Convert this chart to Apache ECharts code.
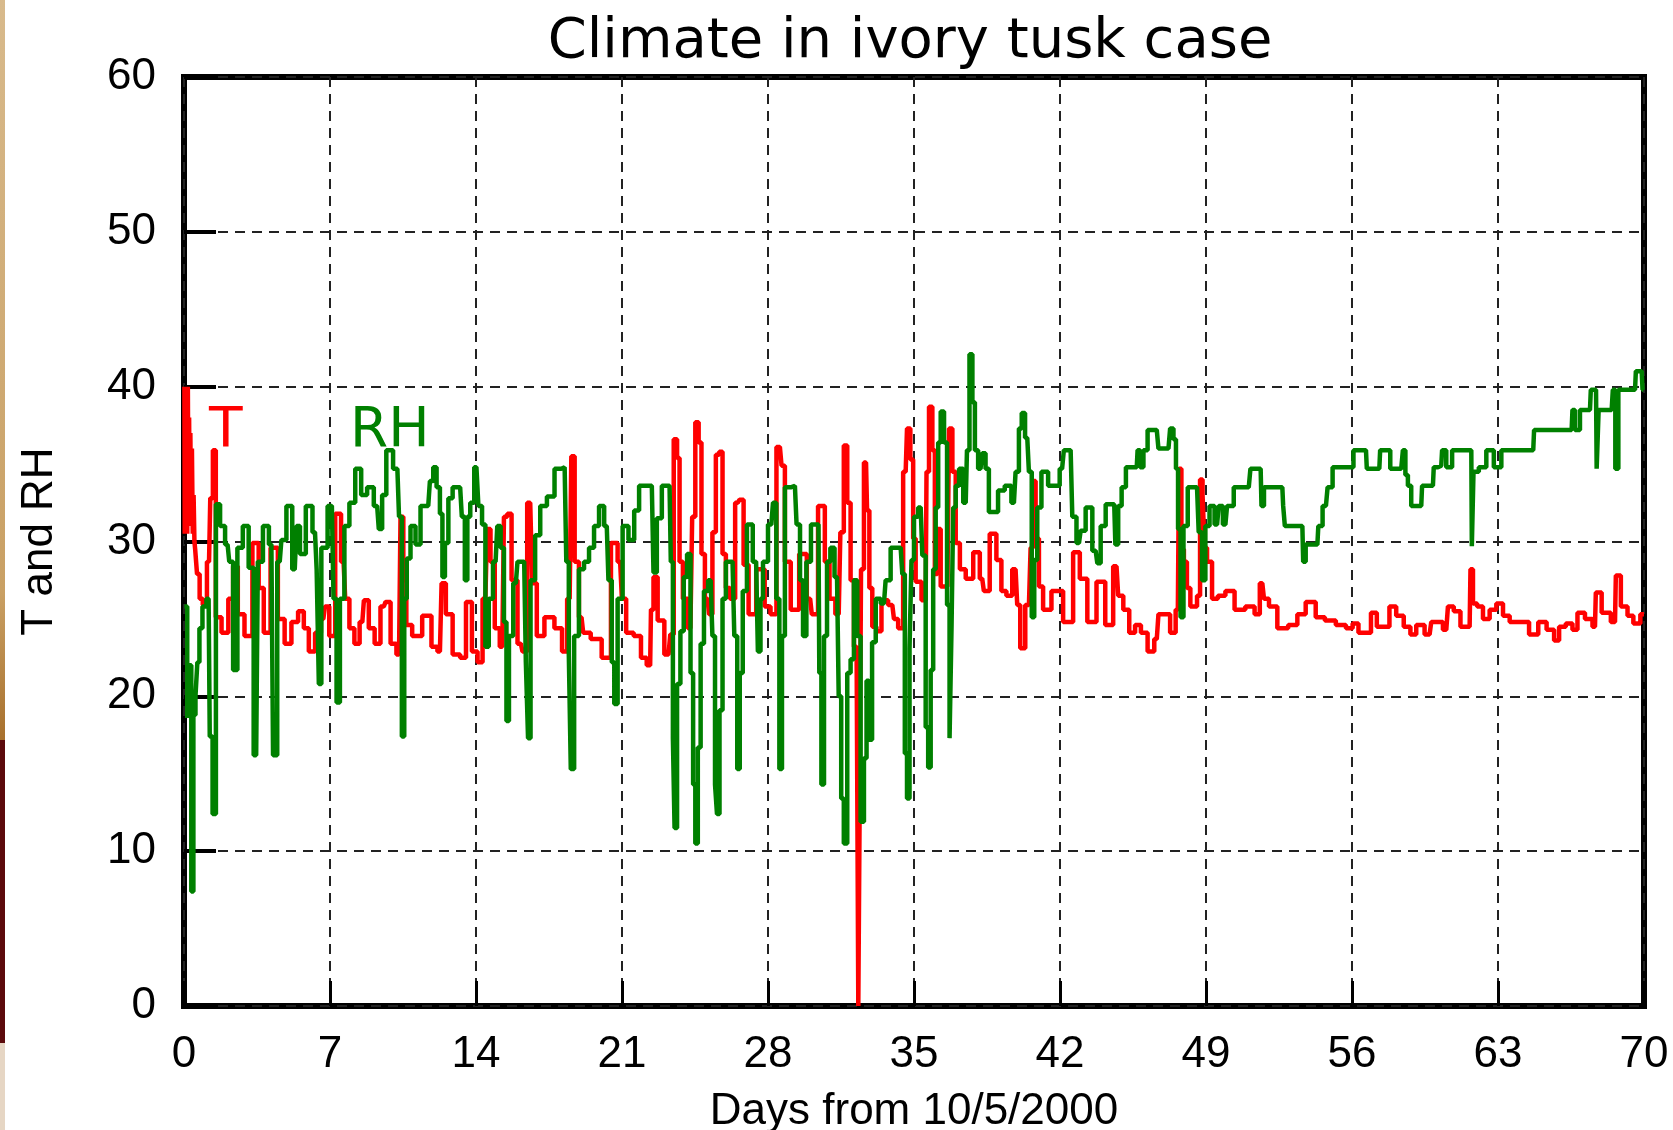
<!DOCTYPE html>
<html>
<head>
<meta charset="utf-8">
<title>Climate in ivory tusk case</title>
<script src="https://cdn.jsdelivr.net/npm/echarts@6/dist/echarts.min.js"></script>
<style>
  html, body { margin: 0; padding: 0; background: #fff; }
  #chart { width: 1673px; height: 1130px; }
</style>
</head>
<body>
<div id="chart"></div>
<script>
// days from 10/5/2000 and temperature readings
const tDays = [0.02, 0.05, 0.08, 0.11, 0.14, 0.17, 0.2, 0.23, 0.26, 0.29, 0.32, 0.36, 0.4, 0.44, 0.48, 0.52, 0.55,
  0.7, 0.8, 1.0, 1.2, 1.32, 1.45, 1.6, 2.0, 2.25, 2.46, 2.7,
  3.1, 3.46, 3.7, 3.95, 4.35, 4.65, 5.0, 5.3, 5.64, 5.85, 6.12, 6.45, 6.68, 6.84, 7.09, 7.41, 7.65, 7.81, 8.05, 8.29,
  8.55, 8.7, 9.02, 9.26, 9.58, 9.75, 10.06, 10.31, 10.45, 10.58, 10.74, 11.14, 11.7, 12.03, 12.27, 12.43, 12.68, 13.08, 13.4, 13.64,
  13.97, 14.18, 14.45, 14.61, 14.78, 15.02, 15.26, 15.42, 15.58, 15.83, 16.15, 16.31, 16.6, 16.79, 17.04, 17.52, 18.0, 18.25, 18.49, 18.65,
  18.81, 19.06, 19.22, 19.78, 20.27, 20.67, 20.91, 21.08, 21.32, 21.8, 22.02, 22.35, 22.43, 22.59, 22.83, 23.23, 23.4, 23.56, 23.72, 23.8,
  24.04, 24.28, 24.45, 24.58, 24.77, 24.85, 25.1, 25.25, 25.42, 25.58, 25.74, 25.9, 26.06, 26.3, 26.55, 26.71, 26.95, 27.19, 27.68, 28.0,
  28.24, 28.57, 28.73, 28.89, 29.29, 29.7, 30.02, 30.18, 30.62, 30.83, 31.07, 31.39, 31.55, 31.72, 31.88, 32.04, 32.2, 32.3, 32.36, 32.42,
  32.5, 32.7, 32.8, 32.92, 33.08, 33.32, 33.56, 33.96, 34.12, 34.36, 34.6, 34.73, 34.92, 35.0, 35.16, 35.56, 35.64, 35.8, 35.96, 36.04,
  36.2, 36.36, 36.6, 36.76, 36.92, 37.08, 37.32, 37.64, 38.04, 38.27, 38.43, 38.83, 39.07, 39.31, 39.55, 39.87, 40.03, 40.16, 40.51, 40.67,
  40.75, 40.91, 41.07, 41.31, 41.87, 42.43, 42.83, 43.07, 43.55, 43.95, 44.39, 44.71, 44.87, 45.2, 45.44, 45.76, 46.0, 46.4, 46.64, 46.8,
  47.12, 47.44, 47.65, 47.76, 47.88, 48.0, 48.17, 48.33, 48.49, 48.65, 48.78, 48.89, 48.97, 49.13, 49.45, 49.69, 50.17, 50.57, 51.2, 51.46,
  51.7, 51.86, 52.18, 52.66, 53.22, 53.54, 54.02, 54.5, 54.9, 55.55, 55.87, 56.19, 56.43, 56.75, 57.07, 57.31, 57.63, 57.96, 58.28, 58.68,
  58.92, 59.24, 59.72, 59.88, 60.2, 60.52, 60.68, 61.08, 61.32, 61.64, 61.72, 61.88, 62.12, 62.44, 62.76, 63.08, 63.4, 63.72, 64.21, 64.77,
  65.09, 65.57, 65.81, 66.05, 66.45, 66.69, 66.93, 67.41, 67.65, 67.73, 68.21, 68.61, 68.69, 69.09, 69.33, 69.65, 70.0]
const tValues = [40, 30.5, 40, 31, 40, 30.5, 40, 31, 38, 31, 37, 31, 36, 30.5, 33, 30, 29.5,
  27.9, 26.3, 25.9, 28.7, 32.8, 35.9, 25.1, 24.1, 26.3, 28.4, 25.3,
  23.9, 29.9, 27, 24.1, 29.6, 25, 23.4, 24.8, 25.5, 24.4, 22.9, 24.1, 25, 25.8, 23.9, 31.8, 28.7, 26.3, 24.4, 23.4,
  24.8, 26.2, 24.4, 23.4, 25.8, 26.1, 23.4, 22.7, 31.6, 27.5, 24.6, 23.9, 25.2, 23.2, 22.9, 27.3, 25.3, 22.7, 22.5, 26.1,
  22.9, 22.2, 26.3, 30.8, 28.7, 24.4, 23.2, 31.6, 31.8, 27.5, 23.4, 22.9, 32.5, 27.3, 23.9, 25.1, 24.4, 22.9, 26.3, 35.5,
  28.7, 25.1, 24.1, 23.7, 22.5, 29.9, 28.7, 26.3, 24.1, 23.9, 22.5, 22.0, 25.6, 27.7, 24.9, 22.7, 24.0, 36.6, 35.4, 28.7,
  26.3, 24.4, 31.6, 37.7, 36.4, 29.2, 26.3, 25.3, 30.6, 35.6, 35.8, 29.2, 27, 26.3, 32.5, 32.7, 28.5, 25.3, 28.2, 25.8,
  25.3, 36.1, 34.9, 28.7, 25.6, 29.2, 26.3, 25.3, 32.3, 28.7, 26.3, 25.3, 30.6, 36.2, 32.5, 27.5, 23.2, 22.5, 0, 12,
  28.2, 35.1, 32, 27, 24.5, 24.2, 26.2, 25.9, 25.0, 24.4, 34.5, 37.3, 35.3, 30.2, 27.4, 26.2, 34.5, 38.7, 35.9, 27.9,
  30.8, 27.1, 27.1, 37.3, 34.5, 29.9, 28.2, 27.6, 29.3, 27.6, 26.8, 30.5, 28.8, 26.8, 26.5, 28.2, 25.9, 23.1, 25.9, 29.6,
  33.9, 30.2, 27.1, 25.6, 26.8, 24.8, 29.3, 27.6, 24.8, 27.4, 24.6, 28.4, 26.5, 25.6, 24.1, 24.6, 24.1, 22.9, 23.7, 25.3,
  25.3, 24.1, 25.6, 34.7, 29.5, 28.7, 27.0, 25.8, 25.8, 26.5, 34.0, 33.0, 29.6, 28.7, 26.3, 26.5, 26.8, 25.6, 25.8, 25.3,
  27.3, 26.3, 25.8, 24.4, 24.6, 25.3, 26.1, 25.1, 24.9, 24.6, 24.4, 24.7, 24.1, 24.1, 25.4, 24.5, 24.5, 25.8, 25.2, 24.5,
  24.0, 24.6, 24.0, 24.8, 24.8, 24.3, 25.8, 25.5, 24.5, 24.5, 28.2, 26.0, 25.8, 25.0, 25.6, 26.0, 25.2, 24.8, 24.8, 24.0,
  24.8, 24.3, 23.6, 24.5, 24.7, 24.3, 25.4, 25.0, 24.5, 26.7, 25.4, 24.8, 27.8, 25.8, 25.2, 24.7, 25.3]

// relative humidity readings
const rhDays = [0.02, 0.11, 0.2, 0.3, 0.4, 0.5, 0.6, 0.68, 0.8, 0.97, 1.18, 1.29, 1.45, 1.61, 1.85, 2.09, 2.25, 2.46, 2.66, 2.98,
  3.22, 3.46, 3.62, 3.95, 4.19, 4.35, 4.59, 4.75, 5.07, 5.31, 5.48, 5.64, 6.04, 6.28, 6.44, 6.49, 6.68, 7.09, 7.25, 7.38,
  7.57, 7.81, 8.05, 8.37, 8.62, 8.94, 9.26, 9.42, 9.58, 9.82, 10.23, 10.39, 10.5, 10.62, 10.74, 10.98, 11.22, 11.46, 11.71, 11.87,
  12.03, 12.19, 12.35, 12.43, 12.59, 12.76, 13.0, 13.24, 13.4, 13.53, 13.64, 13.81, 14.02, 14.21, 14.37, 14.53, 14.69, 14.94, 15.1, 15.26,
  15.42, 15.5, 15.66, 15.91, 16.07, 16.31, 16.47, 16.52, 16.71, 16.96, 17.2, 17.6, 17.93, 18.25, 18.41, 18.49, 18.6, 18.81, 19.06, 19.3,
  19.54, 19.78, 20.02, 20.27, 20.43, 20.59, 20.67, 20.91, 21.15, 21.47, 21.7, 21.94, 22.43, 22.59, 22.75, 23.07, 23.28, 23.4, 23.48, 23.56,
  23.72, 23.88, 24.04, 24.2, 24.37, 24.45, 24.58, 24.69, 24.85, 25.01, 25.25, 25.42, 25.5, 25.61, 25.74, 25.9, 26.06, 26.3, 26.47, 26.58,
  26.71, 26.87, 27.11, 27.43, 27.6, 27.68, 27.84, 28.16, 28.32, 28.48, 28.61, 28.73, 28.89, 29.29, 29.45, 29.62, 29.74, 29.94, 30.18, 30.42,
  30.5, 30.62, 30.75, 30.91, 31.07, 31.31, 31.47, 31.55, 31.72, 31.88, 32.04, 32.2, 32.36, 32.52, 32.68, 32.77, 32.9, 33.08, 33.25, 33.56,
  33.72, 34.04, 34.36, 34.52, 34.6, 34.73, 34.84, 34.92, 35.08, 35.32, 35.48, 35.64, 35.72, 35.88, 35.96, 36.12, 36.2, 36.36, 36.52, 36.65,
  36.76, 36.84, 36.92, 37.08, 37.24, 37.48, 37.6, 37.72, 37.88, 37.96, 38.19, 38.35, 38.51, 38.67, 38.91, 39.15, 39.55, 39.79, 39.95, 40.11,
  40.22, 40.43, 40.59, 40.7, 40.83, 40.99, 41.23, 41.63, 41.87, 42.1, 42.27, 42.51, 42.67, 42.91, 43.07, 43.39, 43.71, 43.87, 44.03, 44.35,
  44.6, 44.71, 44.87, 45.04, 45.28, 45.68, 45.76, 45.92, 46.08, 46.32, 46.64, 46.8, 47.2, 47.36, 47.52, 47.6, 47.72, 47.84, 48.0, 48.25,
  48.57, 48.73, 48.89, 49.05, 49.29, 49.53, 49.69, 49.93, 50.09, 50.57, 51.05, 51.21, 51.62, 51.7, 51.86, 52.66, 52.74, 52.82, 53.62, 53.7,
  53.86, 54.34, 54.43, 54.75, 54.91, 55.23, 55.87, 56.27, 56.67, 56.75, 57.31, 57.39, 57.71, 57.96, 58.36, 58.52, 58.6, 58.76, 58.92, 59.32,
  59.4, 59.88, 59.96, 60.28, 60.36, 60.68, 60.92, 61.72, 61.77, 61.88, 62.28, 62.6, 63.0, 63.32, 64.69, 64.77, 66.53, 66.61, 66.77, 67.09,
  67.41, 67.49, 67.7, 67.76, 67.89, 68.45, 68.56, 68.69, 68.85, 69.57, 69.65, 69.89, 69.97, 70.0]
const rhValues = [25.8, 25.8, 18.6, 22, 7.4, 18.8, 20.0, 22.2, 24.4, 25.8, 26.3, 17.4, 12.4, 32.4, 31.0, 29.8, 28.7, 21.7, 29.6, 31.0,
  28.3, 16.2, 28.7, 31.0, 29.8, 16.2, 28.7, 30.1, 32.3, 28.2, 31.0, 29.2, 32.3, 30.6, 28.2, 20.8, 29.6, 32.3, 26.3, 19.6,
  26.3, 31.0, 32.5, 34.7, 33.0, 33.5, 32.3, 30.8, 33.0, 35.9, 34.7, 31.6, 17.4, 26.3, 28.9, 31.0, 29.8, 32.3, 32.3, 33.9,
  34.8, 33.5, 31.8, 27.7, 29.9, 32.8, 33.5, 33.5, 31.6, 27.5, 31.6, 32.5, 34.8, 32.3, 31.1, 23.2, 26.3, 28.7, 31.0, 29.6,
  24.8, 18.4, 23.9, 27.3, 28.7, 28.7, 22.2, 17.3, 27.5, 30.4, 32.3, 32.9, 34.7, 34.8, 28.7, 22.7, 15.3, 23.9, 28.2, 28.7,
  29.6, 31.0, 32.3, 31.0, 27.5, 22.2, 19.5, 26.3, 31.0, 30.1, 32.0, 33.6, 33.6, 28.0, 31.5, 33.6, 33.6, 28.7, 17.3, 11.5,
  20.8, 24.2, 27.7, 29.2, 21.5, 14.3, 10.5, 16.7, 23.4, 26.8, 27.5, 23.9, 14.3, 12.4, 19.1, 26.3, 28.7, 28.7, 23.9, 15.3,
  21.5, 26.8, 31.1, 28.7, 22.9, 26.3, 28.7, 31.1, 32.5, 26.3, 15.3, 23.9, 33.5, 33.6, 31.1, 27.5, 23.9, 28.7, 31.1, 31.1,
  21.5, 14.3, 23.9, 28.7, 29.6, 27.7, 20, 13.4, 10.5, 21.5, 22.4, 27.5, 23.9, 11.9, 16, 21.0, 17.2, 23.5, 26.3, 26.0,
  27.5, 29.6, 29.6, 27.9, 16.3, 13.4, 23.1, 28.8, 31.6, 32.2, 29.1, 18.0, 15.4, 21.7, 28.2, 32.2, 36.4, 38.4, 36.4, 25.9,
  17.3, 24.5, 32.2, 33.6, 34.7, 32.5, 35.9, 42.1, 39.0, 35.9, 34.7, 35.7, 34.7, 31.9, 31.9, 33.3, 33.6, 32.5, 34.5, 37.3,
  38.3, 36.7, 34.5, 25.1, 28.8, 32.2, 34.5, 33.6, 33.6, 34.7, 35.9, 35.9, 31.6, 29.9, 30.7, 32.2, 29.4, 28.6, 31.0, 32.4,
  32.4, 29.8, 32.3, 33.5, 34.8, 34.8, 35.9, 34.8, 35.9, 37.2, 37.2, 36.0, 36.0, 37.3, 36.6, 34.7, 30.8, 25.1, 31.0, 33.5,
  33.5, 30.6, 27.5, 31.0, 32.3, 31.1, 32.3, 31.1, 32.3, 33.5, 33.5, 34.7, 34.7, 32.3, 33.5, 33.5, 32.3, 31.0, 31.0, 28.7,
  29.8, 29.8, 31.0, 32.3, 33.5, 34.8, 34.8, 35.9, 35.9, 34.7, 34.7, 35.9, 35.9, 34.7, 34.7, 35.9, 34.3, 33.6, 32.3, 32.3,
  33.6, 33.6, 34.8, 34.9, 35.9, 34.8, 35.9, 35.9, 29.7, 34.5, 34.8, 35.9, 34.8, 35.9, 35.9, 37.2, 37.2, 38.5, 37.2, 38.5,
  38.5, 39.8, 39.8, 34.7, 38.5, 38.5, 39.8, 34.7, 39.8, 39.8, 41.0, 41.0, 39.8, 39.8]

const xTicks = { min: 0, max: 70, interval: 7 }
const yTicks = { min: 0, max: 60, interval: 10 }

let myChart = echarts.init(document.getElementById('chart'), null, { renderer: 'canvas' })

let tData = tDays.map((d, i) => [d, tValues[i]])
let rhData = rhDays.map((d, i) => [d, rhValues[i]])

let gridDash = {
  color: '#222',
  width: 2,
  type: [10, 7]
}

let option = {
  backgroundColor: '#fff',
  animation: false,
  title: {
    text: 'Climate in ivory tusk case',
    left: 905,
    textAlign: 'center',
    top: 9,
    textStyle: {
      fontFamily: 'DejaVu Sans',
      fontSize: 56,
      fontWeight: 'normal',
      color: '#000'
    }
  },
  grid: {
    left: 184,
    right: 29,
    top: 77,
    bottom: 124,
    outerBoundsMode: 'none',
    show: true,
    borderColor: '#000',
    borderWidth: 6
  },
  xAxis: {
    type: 'value',
    min: xTicks.min,
    max: xTicks.max,
    interval: xTicks.interval,
    name: 'Days from 10/5/2000',
    nameLocation: 'middle',
    nameGap: 84,
    nameTextStyle: {
      fontFamily: 'Liberation Sans',
      fontSize: 44,
      color: '#000'
    },
    axisLine: { show: false },
    axisTick: {
      inside: true,
      length: 25,
      lineStyle: { color: '#000', width: 3 }
    },
    axisLabel: {
      margin: 27,
      fontFamily: 'Liberation Sans',
      fontSize: 44,
      color: '#000'
    },
    splitLine: { show: true, lineStyle: gridDash }
  },
  yAxis: {
    type: 'value',
    min: yTicks.min,
    max: yTicks.max,
    interval: yTicks.interval,
    name: 'T and RH',
    nameLocation: 'middle',
    nameRotate: 90,
    nameGap: 122,
    nameTextStyle: {
      fontFamily: 'Liberation Sans',
      fontSize: 44,
      color: '#000'
    },
    axisLine: { show: false },
    axisTick: {
      inside: true,
      length: 32,
      lineStyle: { color: '#000', width: 4 }
    },
    axisLabel: {
      margin: 28,
      padding: [9, 0, 0, 0],
      fontFamily: 'Liberation Sans',
      fontSize: 44,
      color: '#000'
    },
    splitLine: { show: true, lineStyle: gridDash }
  },
  series: [
    {
      name: 'T',
      type: 'line',
      step: 'middle',
      data: tData,
      showSymbol: false,
      clip: true,
      lineStyle: { color: '#ff0000', width: 4.5 },
      itemStyle: { color: '#ff0000' }
    },
    {
      name: 'RH',
      type: 'line',
      step: 'middle',
      data: rhData,
      showSymbol: false,
      clip: true,
      lineStyle: { color: '#008000', width: 4.5 },
      itemStyle: { color: '#008000' }
    }
  ],
  graphic: [
    // strip of the slide background on the left edge
    {
      type: 'rect',
      shape: { x: 0, y: 0, width: 5, height: 740 },
      style: {
        fill: new echarts.graphic.LinearGradient(0, 0, 0, 1, [
          { offset: 0, color: '#d8ba8c' },
          { offset: 0.8, color: '#c9a064' },
          { offset: 1, color: '#a8702c' }
        ])
      }
    },
    {
      type: 'rect',
      shape: { x: 0, y: 740, width: 5, height: 303 },
      style: { fill: '#5c0a0c' }
    },
    {
      type: 'rect',
      shape: { x: 0, y: 1043, width: 5, height: 87 },
      style: { fill: '#e6d6c4' }
    },
    {
      type: 'text',
      style: {
        text: 'T',
        x: 209,
        y: 459,
        font: '55px "DejaVu Sans"',
        fill: '#ff0000',
        textAlign: 'left',
        textVerticalAlign: 'bottom'
      }
    },
    {
      type: 'text',
      style: {
        text: 'RH',
        x: 350,
        y: 459,
        font: '55px "DejaVu Sans"',
        fill: '#008000',
        textAlign: 'left',
        textVerticalAlign: 'bottom'
      }
    }
  ]
}
myChart.setOption(option)
</script>
</body>
</html>
